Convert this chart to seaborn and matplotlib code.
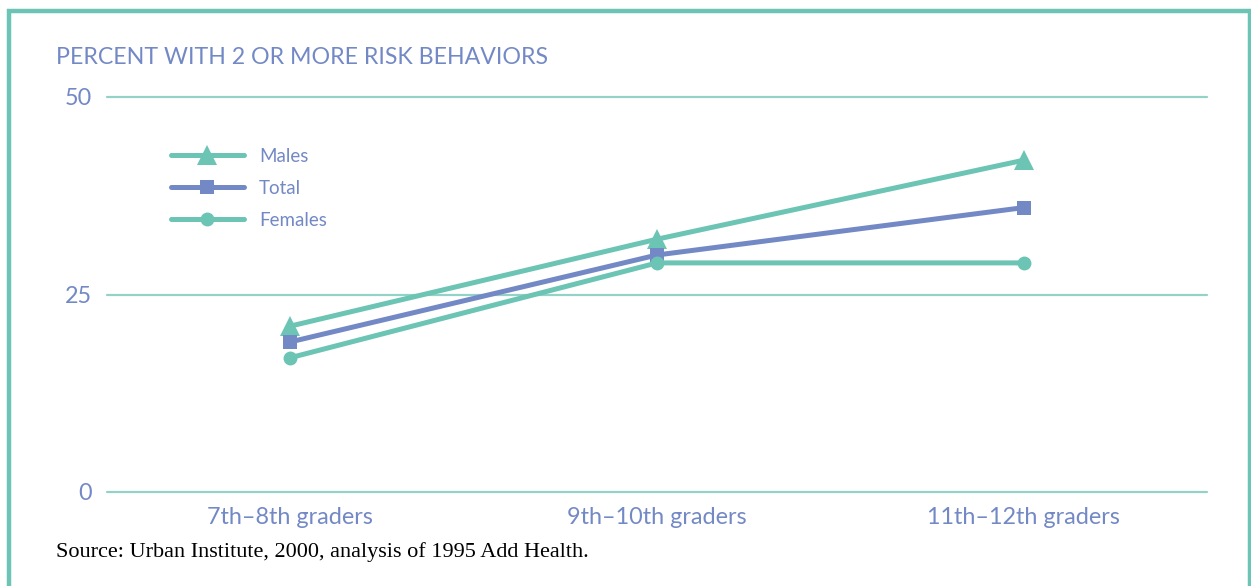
import pandas as pd
import matplotlib.pyplot as plt
import seaborn as sns
from matplotlib.patches import Rectangle

grades = ["7th\u20138th graders", "9th\u201310th graders", "11th\u201312th graders"]
males = [21, 32, 42]
total = [19, 30, 36]
females = [17, 29, 29]
yticks = [0, 25, 50]

TEAL = "#6cc4b4"
BLUE = "#7389c6"
GRID = "#93d2c6"

rows = []
for name, vals in [("Males", males), ("Total", total), ("Females", females)]:
    for g, v in zip(grades, vals):
        rows.append({"grade": g, "pct": v, "group": name})
df = pd.DataFrame(rows)

sns.set_style("white")
plt.rcParams["font.family"] = ["Lato", "DejaVu Sans"]

W, H = 1251, 586
fig = plt.figure(figsize=(W / 100, H / 100), dpi=100)
ax = fig.add_axes([107 / W, (H - 492) / H, 1100 / W, 395 / H])

styles = {"Males": (TEAL, "^", 14), "Total": (BLUE, "s", 10), "Females": (TEAL, "o", 10)}
sns.lineplot(data=df, x="grade", y="pct", hue="group", style="group",
             palette={k: v[0] for k, v in styles.items()},
             markers={k: v[1] for k, v in styles.items()},
             dashes=False, linewidth=3.6, markeredgewidth=0,
             ax=ax, legend=False, sort=False)
for line, name in zip(ax.lines, ["Males", "Total", "Females"]):
    line.set_markersize(styles[name][2])
    line.set_solid_capstyle("round")

ax.set_xlim(-0.5, 2.5)
ax.set_ylim(0, 50)
ax.set_yticks(yticks)
ax.set_xticks(range(len(grades)))
ax.set_xticklabels(grades)
for s in ax.spines.values():
    s.set_visible(False)
for y in yticks:
    ax.axhline(y, color=GRID, lw=1.6, zorder=0, clip_on=False)
ax.tick_params(axis="both", length=0, labelcolor=BLUE, labelsize=16.8)
ax.tick_params(axis="y", pad=11)
ax.tick_params(axis="x", pad=11)
ax.set_xlabel("")
ax.set_ylabel("")

# legend drawn by hand
handles = [plt.Line2D([], [], color=styles[n][0], marker=styles[n][1],
                      markersize=styles[n][2], markeredgewidth=0, lw=3.6,
                      solid_capstyle="round") for n in ["Males", "Total", "Females"]]
leg = fig.legend(handles, ["Males", "Total", "Females"], loc="upper left",
                 bbox_to_anchor=(154 / W, 1 - 131 / H), frameon=False,
                 handlelength=3.9, handletextpad=0.8, labelspacing=0.8,
                 prop={"family": ["Lato"], "size": 13.5})
for t in leg.get_texts():
    t.set_color(BLUE)

fig.text(56 / W, 1 - 58 / H, "PERCENT WITH 2 OR MORE RISK BEHAVIORS",
         color=BLUE, fontsize=16.7, va="center", ha="left")
fig.text(56 / W, 1 - 552 / H, "Source: Urban Institute, 2000, analysis of 1995 Add Health.",
         color="black", fontsize=16, va="center", ha="left",
         family=["Liberation Serif", "DejaVu Serif"])

fig.add_artist(Rectangle((9 / W, -0.1), (W - 10) / W, 1.1 - 11 / H,
                         transform=fig.transFigure, fill=False,
                         edgecolor=TEAL, lw=3.2))

fig.savefig("out.png", dpi=100)
